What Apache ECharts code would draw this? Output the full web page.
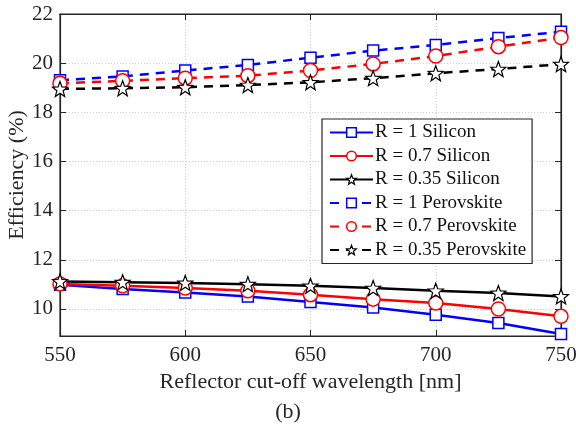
<!DOCTYPE html>
<html><head><meta charset="utf-8">
<script src="https://cdn.jsdelivr.net/npm/echarts@6/dist/echarts.min.js"></script>
<style>html,body{margin:0;padding:0;background:#fff}#c{width:576px;height:424px}</style>
</head><body><div id="c"></div>
<script>
const wavelengths = [550, 575, 600, 625, 650, 675, 700, 725, 750];
const siR1   = [10.98, 10.81, 10.67, 10.51, 10.28, 10.06, 9.76, 9.43, 8.98];
const siR07  = [11.02, 10.94, 10.85, 10.74, 10.58, 10.40, 10.24, 10.00, 9.70];
const siR035 = [11.12, 11.09, 11.06, 11.01, 10.94, 10.85, 10.74, 10.65, 10.51];
const peR1   = [19.30, 19.46, 19.70, 19.93, 20.22, 20.51, 20.74, 21.02, 21.28];
const peR07  = [19.18, 19.28, 19.39, 19.49, 19.70, 19.97, 20.29, 20.67, 21.04];
const peR035 = [18.95, 18.98, 19.02, 19.11, 19.22, 19.39, 19.59, 19.76, 19.96];
const yTicks = [10, 12, 14, 16, 18, 20, 22];
const names = ['R = 1 Silicon', 'R = 0.7 Silicon', 'R = 0.35 Silicon', 'R = 1 Perovskite', 'R = 0.7 Perovskite', 'R = 0.35 Perovskite'];

const STAR = 'path://M50,2 L62.3,34.8 L97.5,36.3 L69.9,58.2 L79.4,92 L50,72.5 L20.6,92 L30.1,58.2 L2.5,36.3 L37.7,34.8 Z';
const F = '"Liberation Serif","DejaVu Serif",serif';
const cols = ['#0000ff', '#ff0000', '#000000', '#0000ff', '#ff0000', '#000000'];
const bw = [1.5, 1.5, 1.2, 1.5, 1.5, 1.2];

function mk(i, data, symbol, size, dashed) {
  const color = cols[i];
  return {
    name: names[i], type: 'line',
    data: wavelengths.map((x, k) => [x, data[k]]),
    symbol, symbolSize: size, showAllSymbol: true,
    lineStyle: { color, width: 2.5, type: dashed ? [9, 7] : 'solid' },
    itemStyle: { color: '#fff', borderColor: color, borderWidth: bw[i] },
    emphasis: { disabled: true },
    z: dashed ? 2 : 3
  };
}

const chart = echarts.init(document.getElementById('c'), null, { renderer: 'canvas' });
chart.setOption({
  animation: false,
  backgroundColor: '#fff',
  grid: { left: 60, right: 15, top: 14, bottom: 88, show: true, borderColor: '#262626', borderWidth: 1.2,
    outerBoundsMode: 'none', containLabel: false },
  xAxis: [{
    type: 'value', min: 550, max: 750, interval: 50,
    name: 'Reflector cut-off wavelength [nm]', nameLocation: 'middle', nameGap: 35, nameMoveOverlap: false,
    nameTextStyle: { fontFamily: F, fontSize: 22, color: '#262626', verticalAlign: 'top' },
    axisLabel: { fontFamily: F, fontSize: 21, color: '#262626', margin: 9 },
    axisLine: { lineStyle: { color: '#262626', width: 1.2 } },
    axisTick: { inside: true, length: 6, lineStyle: { color: '#262626' } },
    splitLine: { show: true, lineStyle: { color: '#d0d0d0', type: [1, 2], width: 1 } }
  }, {
    type: 'value', min: 550, max: 750, interval: 50, position: 'top',
    axisLabel: { show: false },
    axisLine: { show: true, lineStyle: { color: '#262626', width: 1.2 } },
    axisTick: { inside: true, length: 6, lineStyle: { color: '#262626' } },
    splitLine: { show: false }
  }],
  yAxis: [{
    type: 'value', min: 8.9, max: 22,
    name: 'Efficiency (%)', nameLocation: 'middle', nameGap: 32, nameMoveOverlap: false,
    nameTextStyle: { fontFamily: F, fontSize: 22, color: '#262626' },
    axisLabel: { fontFamily: F, fontSize: 21, color: '#262626', margin: 7,
      customValues: yTicks },
    axisTick: { inside: true, length: 6, lineStyle: { color: '#262626' }, customValues: yTicks },
    axisLine: { show: true, lineStyle: { color: '#262626', width: 1.2 } },
    splitLine: { show: true, lineStyle: { color: '#d0d0d0', type: [1, 2], width: 1 } }
  }, {
    type: 'value', min: 8.9, max: 22, position: 'right',
    axisLabel: { show: false },
    axisTick: { show: true, inside: true, length: 6, lineStyle: { color: '#262626' }, customValues: yTicks },
    axisLine: { show: true, lineStyle: { color: '#262626', width: 1.2 } },
    splitLine: { show: false }
  }],
  legend: {
    orient: 'vertical', left: 322, top: 119,
    backgroundColor: '#fff', borderColor: '#262626', borderWidth: 1.2,
    padding: [4, 6, 4, 7], itemGap: 4.5, itemWidth: 43, itemHeight: 12,
    textStyle: { fontFamily: F, fontSize: 19, color: '#111', padding: [0, 0, 0, -3] },
    data: names.map((n, i) => ({ name: n,
      itemStyle: { color: '#fff', borderColor: cols[i], borderWidth: bw[i] } }))
  },
  graphic: [{ type: 'text', left: 'center', top: 401,
    style: { text: '(b)', font: '22px ' + F, fill: '#262626' } }],
  series: [
    mk(0, siR1, 'rect', 11, false),
    mk(1, siR07, 'circle', 14, false),
    mk(2, siR035, STAR, 15, false),
    mk(3, peR1, 'rect', 11, true),
    mk(4, peR07, 'circle', 14, true),
    mk(5, peR035, STAR, 15, true)
  ]
});
</script></body></html>
